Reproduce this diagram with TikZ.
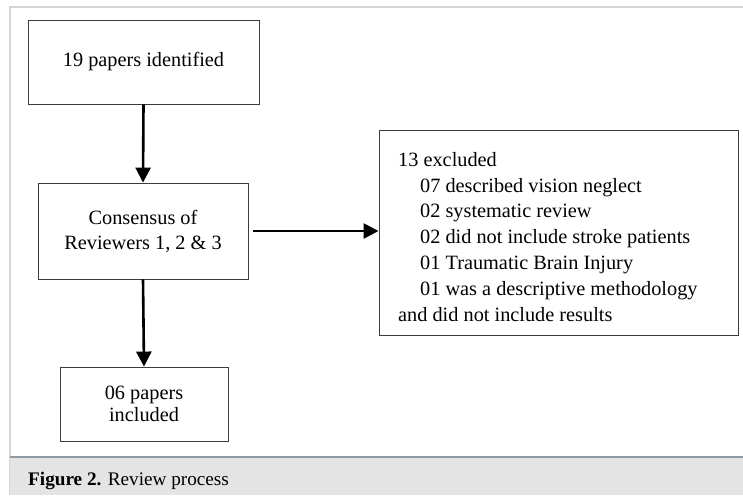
\documentclass[tikz,border=0pt]{standalone}
\usepackage{fontspec}
\setmainfont{Liberation Serif}
\usetikzlibrary{arrows.meta}
\definecolor{framegray}{RGB}{210,214,219}
\definecolor{capline}{RGB}{142,153,166}
\definecolor{capfill}{RGB}{228,228,228}
\definecolor{boxline}{RGB}{60,60,60}
\begin{document}
\begin{tikzpicture}[x=1pt,y=-1pt,
  box/.style={draw=boxline, line width=0.9pt, fill=white, inner sep=0pt, align=center,
    font=\fontsize{20.3}{25}\selectfont},
  listtext/.style={inner sep=0pt, align=left, anchor=north west,
    font=\fontsize{20.3}{25.8}\selectfont},
  arr/.style={line width=2.6pt, -{Triangle[width=15pt,length=15pt]}}
]
\useasboundingbox (0,0) rectangle (743,495);
\fill[white] (0,0) rectangle (743,495);
% outer frame
\draw[framegray, line width=2pt] (10,495) -- (10,7) -- (743,7);
% caption bar
\fill[capfill] (10,457) rectangle (743,495);
\draw[capline, line width=2pt] (10,457) -- (743,457);
\node[inner sep=0pt, anchor=base west, font=\fontsize{19.2}{22}\selectfont] (cap) at (28,485)
  {\textbf{Figure 2.} Review process};
% boxes
\node[box, minimum width=231pt, minimum height=84pt] (b1) at (143.5,62) {19 papers identified};
\node[box, minimum width=210pt, minimum height=96pt] (b2) at (143,231) {Consensus of\\Reviewers 1, 2 \& 3};
\node[box, minimum width=168pt, minimum height=74pt, font=\fontsize{20.3}{22}\selectfont] (b4) at (144,404) {\raisebox{0pt}[14pt][0pt]{}06 papers\\included};
\node[box, minimum width=359pt, minimum height=205pt] (ex) at (558.5,232.5) {};
\node[listtext] (extext) at (398,152) {13 excluded\\
\hspace*{22pt}07 described vision neglect\\
\hspace*{22pt}02 systematic review\\
\hspace*{22pt}02 did not include stroke patients\\
\hspace*{22pt}01 Traumatic Brain Injury\\
\hspace*{22pt}01 was a descriptive methodology\\
and did not include results};
% arrows
\draw[arr] (b1.south) -- (b2.north);
\draw[arr] ([xshift=5pt]b2.east) -- (ex.west |- b2.east);
\draw[arr] (b2.south) -- (b4.north);
\end{tikzpicture}
\end{document}
